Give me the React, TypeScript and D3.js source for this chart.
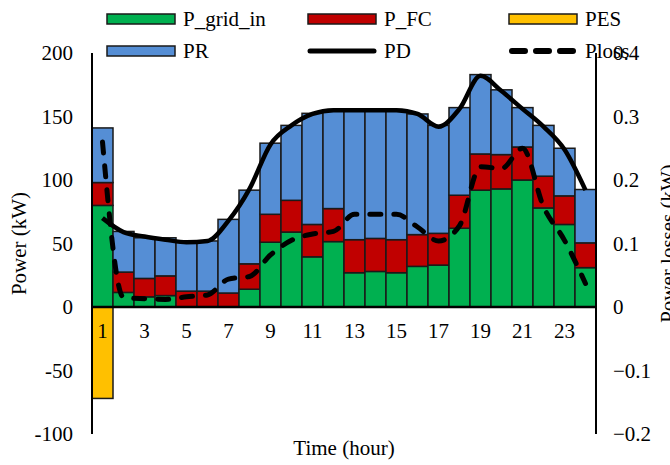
import * as d3 from "d3";

const hours = d3.range(1, 25);
const gridIn = [80, 11.5, 8, 9, 0, 0, 0, 14, 51, 59, 39.5, 51.5, 27, 28, 27, 32, 33, 62, 92, 93, 100, 78, 65, 31];
const pFC = [18, 16, 14.5, 15.5, 12.5, 12.5, 11, 20, 22, 25, 25.5, 26, 26, 26, 26, 25, 25, 26, 28.5, 27, 26, 25, 22.5, 19.5];
const pES = [-72, 0, 0, 0, 0, 0, 0, 0, 0, 0, 0, 0, 0, 0, 0, 0, 0, 0, 0, 0, 0, 0, 0, 0];
const pR = [43, 32, 32, 30, 39, 39.5, 58, 58, 56, 59, 87.5, 77.5, 102, 101, 102, 95, 85, 69, 62.5, 51, 31, 40, 37.5, 42];
const pD = [70, 59, 55.5, 53, 51, 52, 68, 93, 128, 143, 152, 155, 155, 155, 155, 152, 142, 156, 182, 170, 156, 142, 124, 92];
const pLoss = [0.26, 0.015, 0.013, 0.012, 0.016, 0.019, 0.044, 0.048, 0.082, 0.105, 0.115, 0.119, 0.146, 0.146, 0.146, 0.126, 0.104, 0.128, 0.221, 0.218, 0.25, 0.158, 0.105, 0.037];
const leftTicks = [-100, -50, 0, 50, 100, 150, 200];
const rightTicks = [-0.2, -0.1, 0, 0.1, 0.2, 0.3, 0.4];
const xLabels = [1, 3, 5, 7, 9, 11, 13, 15, 17, 19, 21, 23];

const colors = { grid: "#00b050", fc: "#c00000", es: "#ffc000", pr: "#558ed5" };
const font = "'Liberation Serif', 'Times New Roman', serif";

const W = 670, H = 465;
const left = 92, right = 596, top = 53, bottom = 434;

export default function App() {
  const x = d3.scaleBand<number>().domain(hours).range([left, right]).padding(0);
  const y = d3.scaleLinear().domain([-100, 200]).range([bottom, top]);
  const y2 = d3.scaleLinear().domain([-0.2, 0.4]).range([bottom, top]);
  const cx = (h: number) => (x(h) as number) + x.bandwidth() / 2;

  // stacked segments: green, red, blue above zero; yellow below
  const segs: { h: number; y0: number; y1: number; c: string }[] = [];
  hours.forEach((h, i) => {
    let base = 0;
    [[gridIn[i], colors.grid], [pFC[i], colors.fc], [pR[i], colors.pr]].forEach(([v, c]) => {
      if ((v as number) > 0) {
        segs.push({ h, y0: base, y1: base + (v as number), c: c as string });
        base += v as number;
      }
    });
    if (pES[i] < 0) segs.push({ h, y0: pES[i], y1: 0, c: colors.es });
  });

  const pdLine = d3.line<number>().x((_, i) => cx(hours[i])).y((d) => y(d)).curve(d3.curveMonotoneX);
  const lossLine = d3.line<number>().x((_, i) => cx(hours[i])).y((d) => y2(d)).curve(d3.curveMonotoneX);

  const legend = [
    { label: "P_grid_in", type: "rect", c: colors.grid, x: 107, y: 19 },
    { label: "P_FC", type: "rect", c: colors.fc, x: 308, y: 19 },
    { label: "PES", type: "rect", c: colors.es, x: 509, y: 19 },
    { label: "PR", type: "rect", c: colors.pr, x: 107, y: 51 },
    { label: "PD", type: "line", c: "#000", x: 308, y: 51 },
    { label: "Ploss", type: "dash", c: "#000", x: 509, y: 51 },
  ];

  return (
    <svg width={W} height={H} style={{ position: "absolute", left: 0, top: 0, background: "#fff" }} fontFamily={font}>
      {segs.map((s, i) => (
        <rect key={i} x={x(s.h)} y={y(s.y1)} width={x.bandwidth()} height={y(s.y0) - y(s.y1)}
          fill={s.c} stroke="#1a1a1a" strokeWidth={1.5} />
      ))}
      <line x1={left} x2={right} y1={y(0)} y2={y(0)} stroke="#000" strokeWidth={2.5} />
      <line x1={left} x2={left} y1={top} y2={bottom} stroke="#000" strokeWidth={2} />
      <line x1={right} x2={right} y1={top} y2={bottom} stroke="#000" strokeWidth={2} />
      <path d={pdLine(pD) || ""} fill="none" stroke="#000" strokeWidth={4.5} strokeLinejoin="round" />
      <path d={lossLine(pLoss) || ""} fill="none" stroke="#000" strokeWidth={5} strokeDasharray="11,13" strokeLinecap="round" />
      {leftTicks.map((t) => (
        <text key={t} x={73} y={y(t)} dy="0.35em" textAnchor="end" fontSize={21}>{t}</text>
      ))}
      {rightTicks.map((t) => (
        <text key={t} x={613} y={y2(t)} dy="0.35em" textAnchor="start" fontSize={21}>{d3.format("")(+t.toFixed(1))}</text>
      ))}
      {xLabels.map((h) => (
        <text key={h} x={cx(h)} y={338} textAnchor="middle" fontSize={21}>{h}</text>
      ))}
      <text x={(left + right) / 2} y={455} textAnchor="middle" fontSize={21}>Time (hour)</text>
      <text transform={`translate(26,${(top + bottom) / 2}) rotate(-90)`} textAnchor="middle" fontSize={21}>Power (kW)</text>
      <text transform={`translate(675,${(top + bottom) / 2}) rotate(-90)`} textAnchor="middle" fontSize={21}>Power losses (kW)</text>
      {legend.map((l) => (
        <g key={l.label}>
          {l.type === "rect" && (
            <rect x={l.x} y={l.y - 5} width={68} height={10} fill={l.c} stroke="#1a1a1a" strokeWidth={1.5} />
          )}
          {l.type === "line" && (
            <line x1={l.x + 2} x2={l.x + 66} y1={l.y} y2={l.y} stroke="#000" strokeWidth={5} strokeLinecap="round" />
          )}
          {l.type === "dash" && (
            <line x1={l.x + 3} x2={l.x + 64} y1={l.y} y2={l.y} stroke="#000" strokeWidth={6} strokeLinecap="round" strokeDasharray="13,11" />
          )}
          <text x={l.x + 76} y={l.y + 7} fontSize={21}>{l.label}</text>
        </g>
      ))}
    </svg>
  );
}
